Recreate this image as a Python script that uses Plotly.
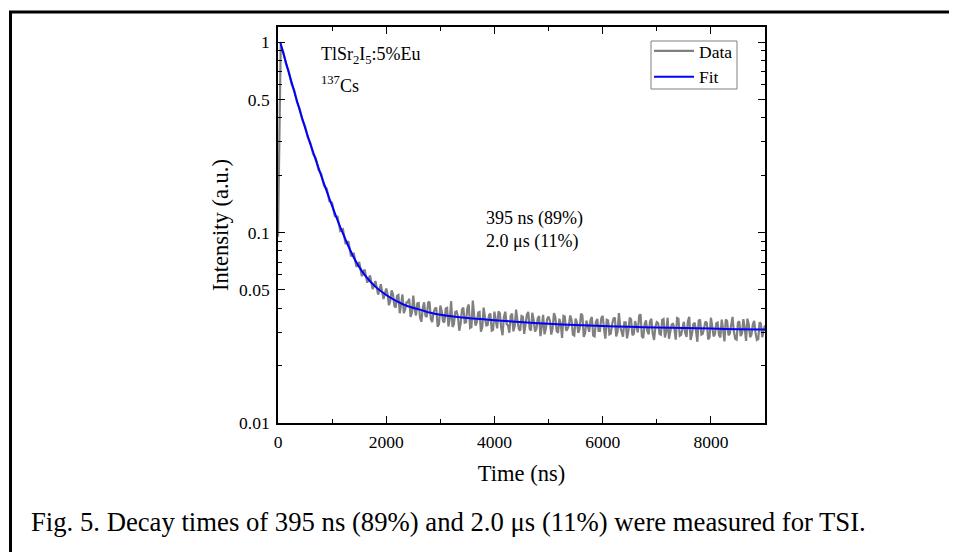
import plotly.graph_objects as go

# ==========================================
# DATA
# ==========================================
# 0 .. 2000 ns, one point every 50 ns
HEAD_I = [
    0.095, 0.97, 0.88, 0.765, 0.70, 0.605, 0.56, 0.485, 0.447, 0.39,
    0.362, 0.316, 0.295, 0.258, 0.245, 0.213, 0.203, 0.176, 0.170, 0.146,
    0.143, 0.122, 0.121, 0.102, 0.104, 0.087, 0.090, 0.075, 0.078, 0.066,
    0.070, 0.059, 0.064, 0.0545, 0.0595, 0.0505, 0.0556, 0.0472, 0.0535, 0.0448,
    0.0508,
]
# tail at 2050, 2100 ... 9000 ns
TAIL_A = [
    0.0415, 0.0497, 0.0412, 0.0465, 0.0377, 0.0473, 0.0395, 0.0431, 0.0361, 0.0466,
    0.0367, 0.0427, 0.0340, 0.0430, 0.0361, 0.0433, 0.0339, 0.0398, 0.0320, 0.0414,
    0.0342, 0.0399, 0.0321, 0.0436, 0.0329, 0.0386, 0.0305, 0.0394, 0.0336, 0.0402,
    0.0316, 0.0439, 0.0325, 0.0380, 0.0302, 0.0403, 0.0325, 0.0369, 0.0305, 0.0384,
    0.0314, 0.0376, 0.0289, 0.0384, 0.0325, 0.0365, 0.0303, 0.0394, 0.0312, 0.0365,
    0.0294, 0.0371, 0.0312, 0.0379, 0.0302, 0.0354, 0.0286, 0.0370, 0.0312, 0.0362,
    0.0291, 0.0377, 0.0304, 0.0353, 0.0280, 0.0362, 0.0312, 0.0367, 0.0291, 0.0353,
    0.0297, 0.0375, 0.0283, 0.0345, 0.0301, 0.0360, 0.0285, 0.0352, 0.0304, 0.0365,
    0.0277, 0.0345, 0.0295, 0.0353, 0.0285, 0.0378, 0.0298, 0.0338, 0.0278, 0.0357,
    0.0289, 0.0343, 0.0299, 0.0372, 0.0279, 0.0346, 0.0292, 0.0352, 0.0273, 0.0339,
    0.0294, 0.0348, 0.0281, 0.0357, 0.0299, 0.0334, 0.0274, 0.0353, 0.0290, 0.0340,
    0.0283, 0.0361, 0.0292, 0.0336, 0.0267, 0.0349, 0.0294, 0.0341, 0.0275, 0.0357,
    0.0285, 0.0334, 0.0290, 0.0349, 0.0268, 0.0343, 0.0295, 0.0361, 0.0277, 0.0336,
    0.0286, 0.0351, 0.0270, 0.0329, 0.0291, 0.0344, 0.0273, 0.0338, 0.0282, 0.0326,
]
# tail at 2025, 2075 ... 8975 ns
TAIL_B = [
    0.0475, 0.0438, 0.0474, 0.0404, 0.0470, 0.0412, 0.0377, 0.0430, 0.0449, 0.0380,
    0.0396, 0.0425, 0.0358, 0.0401, 0.0366, 0.0428, 0.0352, 0.0380, 0.0403, 0.0330,
    0.0387, 0.0338, 0.0402, 0.0353, 0.0319, 0.0383, 0.0364, 0.0333, 0.0403, 0.0338,
    0.0419, 0.0319, 0.0367, 0.0338, 0.0383, 0.0319,
    0.0359, 0.0327, 0.0375, 0.0308, 0.0345, 0.0386, 0.0316, 0.0360, 0.0332, 0.0298,
    0.0375, 0.0323, 0.0346, 0.0305, 0.0362, 0.0330, 0.0383, 0.0306, 0.0348, 0.0311,
    0.0364, 0.0320, 0.0292, 0.0352,
    0.0344, 0.0314, 0.0360, 0.0297, 0.0332, 0.0365, 0.0305, 0.0325, 0.0347, 0.0288,
    0.0336, 0.0313, 0.0367, 0.0296, 0.0324, 0.0347, 0.0288, 0.0339, 0.0304, 0.0355,
    0.0312, 0.0348, 0.0292, 0.0331, 0.0358, 0.0301, 0.0320, 0.0284, 0.0338, 0.0303,
    0.0350, 0.0293, 0.0324, 0.0366, 0.0285, 0.0330, 0.0304, 0.0342, 0.0295, 0.0320,
    0.0335, 0.0291, 0.0351, 0.0303, 0.0277, 0.0328, 0.0312, 0.0356, 0.0287, 0.0321,
    0.0298, 0.0342, 0.0273, 0.0330, 0.0305, 0.0345, 0.0291, 0.0316, 0.0335, 0.0282,
    0.0322, 0.0293, 0.0337, 0.0281, 0.0312, 0.0349, 0.0289, 0.0327, 0.0302, 0.0274,
    0.0342, 0.0295, 0.0316, 0.0353, 0.0282, 0.0329, 0.0298, 0.0276, 0.0332, 0.0307,
]

DATA_T = [i * 50 for i in range(len(HEAD_I))]
DATA_I = list(HEAD_I)
for k, (b, a) in enumerate(zip(TAIL_B, TAIL_A)):
    DATA_T += [2025 + 50 * k, 2050 + 50 * k]
    DATA_I += [b, a]

FIT_T = [40, 100, 200, 300, 400, 500, 600, 700, 800, 900,
         1000, 1100, 1200, 1300, 1400, 1500, 1600, 1800, 2000, 2200,
         2400, 2600, 2800, 3000, 3400, 3800, 4200, 4600, 5000, 5500,
         6000, 6500, 7000, 7500, 8000, 8500, 9000]
FIT_I = [1.0, 0.87, 0.69, 0.55, 0.44, 0.355, 0.29, 0.24, 0.198, 0.165,
         0.138, 0.116, 0.099, 0.085, 0.074, 0.066, 0.060, 0.052, 0.047, 0.0435,
         0.041, 0.0395, 0.038, 0.037, 0.0358, 0.0350, 0.0343, 0.0337, 0.0332, 0.0327,
         0.0323, 0.0320, 0.0317, 0.0315, 0.0313, 0.0311, 0.0310]

Y_TICKS = [0.01, 0.05, 0.1, 0.5, 1]
Y_TICKTEXT = ["0.01", "0.05", "0.1", "0.5", "1"]
Y_MINOR = [0.02, 0.03, 0.04, 0.06, 0.07, 0.08, 0.09,
           0.2, 0.3, 0.4, 0.6, 0.7, 0.8, 0.9]
X_TICKS = [0, 2000, 4000, 6000, 8000]
X_MINOR = [1000, 3000, 5000, 7000]

CAPTION = "Fig. 5. Decay times of 395 ns (89%) and 2.0 \u03bcs (11%) were measured for TSI."

# ==========================================
# GEOMETRY
# ==========================================
# the page body has an 8px margin, so the figure is 16px smaller than the window
OFF = 8
W, H = 957 - 2 * OFF, 560 - 2 * OFF
PL, PR, PT, PB = 278, 765, 27, 423  # plot area in window pixels


def px(x):
    return (x - PL) / (PR - PL)


def py(y):
    return (PB - y) / (PB - PT)


FONT = "Liberation Serif"

fig = go.Figure()

fig.add_trace(go.Scatter(
    x=DATA_T, y=DATA_I, mode='lines',
    line=dict(color='#808080', width=2.2),
    name='Data'
))
fig.add_trace(go.Scatter(
    x=FIT_T, y=FIT_I, mode='lines',
    line=dict(color='#0000ff', width=2, shape='spline', smoothing=0.6),
    name='Fit'
))

axis_common = dict(
    showline=True, linecolor='black', linewidth=1.6, mirror='ticks',
    ticks='inside', ticklen=7, tickwidth=1.4, tickcolor='black',
    showgrid=False, zeroline=False,
    tickfont=dict(family=FONT, size=17.5, color='black'),
)

fig.update_layout(
    width=W, height=H,
    paper_bgcolor='white', plot_bgcolor='white',
    margin=dict(l=PL - OFF, r=(W + OFF) - PR, t=PT - OFF, b=(H + OFF) - PB),
    font=dict(family=FONT, color='black'),
    xaxis=dict(
        range=[0, 9000], tickvals=X_TICKS,
        minor=dict(tickvals=X_MINOR, ticks='inside', ticklen=4, tickcolor='black', tickwidth=1.2),
        title=dict(text='Time (ns)', font=dict(family=FONT, size=22.5), standoff=14),
        ticklabelstandoff=2,
        **axis_common
    ),
    yaxis=dict(
        type='log', range=[-2, 0.079],
        tickvals=Y_TICKS, ticktext=Y_TICKTEXT,
        minor=dict(tickvals=Y_MINOR, ticks='inside', ticklen=4, tickcolor='black', tickwidth=1.2),
        title=dict(text='Intensity (a.u.)', font=dict(family=FONT, size=22.5), standoff=4),
        ticklabelstandoff=3,
        **axis_common
    ),
    showlegend=True,
    legend=dict(
        x=px(649), y=py(33), xanchor='left', yanchor='top',
        bgcolor='rgba(0,0,0,0)', borderwidth=0,
        font=dict(family=FONT, size=17.5, color='black'),
        itemwidth=40, tracegroupgap=0,
    ),
)

# legend frame (tighter than plotly's own padding)
fig.add_shape(type='rect', xref='paper', yref='paper',
              x0=px(651), x1=px(737), y0=py(89), y1=py(41),
              line=dict(color='#808080', width=1), fillcolor='rgba(0,0,0,0)', layer='above')

# sample labels and decay times
fig.add_annotation(x=px(319), y=py(55), xref='paper', yref='paper',
                   text='TlSr<sub>2</sub>I<sub>5</sub>:5%Eu', showarrow=False,
                   xanchor='left', yanchor='middle', font=dict(family=FONT, size=18))
fig.add_annotation(x=px(319), y=py(84), xref='paper', yref='paper',
                   text='<sup>137</sup>Cs', showarrow=False,
                   xanchor='left', yanchor='middle', font=dict(family=FONT, size=18))
fig.add_annotation(x=px(484), y=py(229.5), xref='paper', yref='paper',
                   text='395 ns (89%)<br>2.0 \u03bcs (11%)', showarrow=False, align='left',
                   xanchor='left', yanchor='middle', font=dict(family=FONT, size=18))

# caption under the figure
fig.add_annotation(x=px(29), y=py(522), xref='paper', yref='paper',
                   text=CAPTION, showarrow=False,
                   xanchor='left', yanchor='middle', font=dict(family=FONT, size=26.7))

# frame around figure + caption (runs off the right and bottom edges)
fig.add_shape(type='rect', xref='paper', yref='paper',
              x0=px(10.5), x1=px(1000), y0=py(600), y1=py(12),
              line=dict(color='black', width=3), fillcolor='rgba(0,0,0,0)', layer='above')

fig.write_html("out.html")
